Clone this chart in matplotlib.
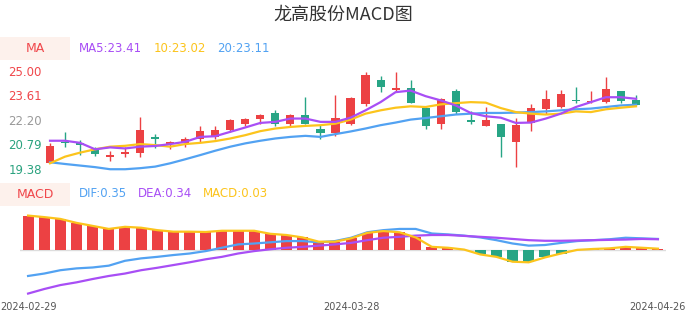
import matplotlib
matplotlib.use("Agg")
import matplotlib.pyplot as plt
from matplotlib.patches import Rectangle

plt.rcParams['font.family'] = ['DejaVu Sans', 'Noto Sans CJK SC']

W, H = 686, 320

# ---- data (40 trading days) ----
dates = ['2024-02-29', '2024-03-28', '2024-04-26']
date_idx = [0, 20, 39]

opens = [19.74, 20.93, 20.87, 20.46, 20.04, 20.23, 20.27, 21.21, 20.80, 20.84,
         21.07, 21.21, 21.63, 21.97, 22.22, 22.60, 21.92, 22.49, 21.67, 21.44,
         21.93, 23.11, 24.49, 23.92, 24.02, 22.88, 21.93, 23.81, 22.16, 21.84,
         21.97, 20.93, 22.03, 22.83, 22.92, 23.30, 23.20, 23.20, 23.86, 23.30]
closes = [20.70, 20.87, 20.74, 20.23, 20.17, 20.36, 21.59, 21.07, 20.90, 21.08,
          21.54, 21.59, 22.20, 22.26, 22.45, 21.97, 22.49, 21.97, 21.44, 22.29,
          23.45, 24.77, 24.05, 24.00, 23.17, 21.82, 23.35, 22.63, 22.07, 22.16,
          21.18, 21.88, 22.88, 23.35, 23.64, 23.24, 23.26, 23.96, 23.24, 23.05]
highs = [20.87, 21.50, 21.03, 20.65, 20.42, 20.65, 22.35, 21.35, 20.99, 21.18,
         21.82, 21.82, 22.22, 22.29, 22.54, 22.73, 22.54, 23.48, 21.88, 23.58,
         23.47, 24.94, 24.68, 24.94, 24.49, 22.88, 23.45, 23.96, 22.69, 22.92,
         21.97, 22.31, 23.07, 23.90, 23.92, 24.05, 23.81, 24.66, 23.86, 23.58]
lows = [19.72, 20.65, 20.17, 20.12, 19.85, 20.08, 20.08, 20.55, 20.52, 20.61,
        20.93, 21.08, 21.50, 21.82, 21.93, 21.84, 21.84, 21.92, 21.07, 21.25,
        21.90, 22.97, 23.77, 23.77, 23.15, 21.69, 21.65, 22.50, 21.97, 21.84,
        20.08, 19.51, 21.55, 22.50, 22.86, 23.17, 23.17, 23.14, 23.14, 23.05]

ma5 = [20.99, 20.99, 20.87, 20.50, 20.61, 20.55, 20.65, 20.69, 20.80, 20.93,
       21.21, 21.25, 21.50, 21.75, 22.01, 22.07, 22.26, 22.26, 22.07, 22.07,
       22.31, 22.73, 23.20, 23.77, 23.86, 23.54, 23.30, 23.01, 22.58, 22.39,
       22.31, 22.01, 22.03, 22.26, 22.54, 22.92, 23.20, 23.48, 23.48, 23.39]
ma10 = [19.70, 20.08, 20.31, 20.50, 20.65, 20.70, 20.80, 20.74, 20.65, 20.80,
        20.87, 20.97, 21.12, 21.31, 21.54, 21.69, 21.78, 21.84, 21.88, 21.97,
        22.20, 22.54, 22.73, 22.88, 22.96, 22.92, 23.07, 23.14, 23.20, 23.17,
        22.86, 22.63, 22.54, 22.49, 22.54, 22.67, 22.63, 22.79, 22.88, 22.96]
ma20 = [19.76, 19.66, 19.57, 19.48, 19.36, 19.36, 19.42, 19.51, 19.70, 19.93,
        20.17, 20.42, 20.65, 20.84, 20.99, 21.12, 21.21, 21.27, 21.21, 21.37,
        21.52, 21.69, 21.88, 22.03, 22.20, 22.29, 22.39, 22.49, 22.54, 22.58,
        22.58, 22.60, 22.63, 22.67, 22.73, 22.79, 22.83, 22.92, 23.01, 23.05]

dif = [-0.87, -0.79, -0.68, -0.62, -0.59, -0.53, -0.37, -0.29, -0.24, -0.18,
       -0.13, -0.05, 0.06, 0.17, 0.20, 0.24, 0.28, 0.28, 0.24, 0.28,
       0.39, 0.57, 0.64, 0.68, 0.68, 0.53, 0.50, 0.46, 0.40, 0.31,
       0.20, 0.13, 0.15, 0.22, 0.28, 0.31, 0.34, 0.39, 0.37, 0.35]
dea = [-1.45, -1.30, -1.17, -1.08, -0.97, -0.87, -0.79, -0.68, -0.60, -0.51,
       -0.42, -0.32, -0.24, -0.13, -0.05, 0.01, 0.06, 0.09, 0.13, 0.17,
       0.22, 0.31, 0.39, 0.42, 0.46, 0.48, 0.48, 0.45, 0.42, 0.39,
       0.35, 0.31, 0.29, 0.29, 0.30, 0.31, 0.32, 0.33, 0.35, 0.34]
macd = [1.12, 1.07, 1.01, 0.88, 0.78, 0.68, 0.75, 0.72, 0.64, 0.59,
        0.59, 0.58, 0.62, 0.62, 0.62, 0.52, 0.48, 0.40, 0.26, 0.26,
        0.37, 0.55, 0.61, 0.57, 0.40, 0.09, 0.06, 0.00, -0.16, -0.24,
        -0.40, -0.42, -0.26, -0.13, -0.01, 0.02, 0.04, 0.09, 0.06, 0.03]

price_ticks = [19.38, 20.79, 22.20, 23.61, 25.00]
tick_colors = ['#2aa27f', '#2aa27f', '#999999', '#f0474b', '#f0474b']

RED = '#ec4143'
GREEN = '#27a585'
C_MA5 = '#a84ef5'
C_MA10 = '#fcc41c'
C_MA20 = '#52a2f2'


def box(l, t, r, b):
    # pixel box (top-left origin) -> figure fraction rect
    return [l / W, 1 - b / H, (r - l) / W, (b - t) / H]


fig = plt.figure(figsize=(W / 100, H / 100), dpi=100)

# ---- price panel ----
ax = fig.add_axes(box(42.5, 60, 643.5, 175))
x = list(range(len(opens)))
for i in x:
    o, c = opens[i], closes[i]
    col = RED if c >= o else GREEN
    ax.vlines(i, lows[i], highs[i], color=col, lw=1.0, zorder=2)
    ax.bar(i, max(abs(c - o), 0.04), bottom=min(o, c), width=0.54,
           color=col, zorder=3)
ax.plot(x, ma20, color=C_MA20, lw=1.6, zorder=4)
ax.plot(x, ma10, color=C_MA10, lw=1.6, zorder=4)
ax.plot(x, ma5, color=C_MA5, lw=1.6, zorder=4)
ax.set_xlim(-0.5, len(opens) - 0.5)
ax.set_ylim(19.03, 25.61)
ax.set_xticks([])
ax.set_yticks(price_ticks)
ax.set_yticklabels(['%.2f' % v for v in price_ticks], fontsize=8.5)
for lab, col in zip(ax.get_yticklabels(), tick_colors):
    lab.set_color(col)
ax.tick_params(axis='y', length=0, pad=0.5)
for s in ax.spines.values():
    s.set_visible(False)

# ---- MACD panel ----
ax2 = fig.add_axes(box(20, 208, 666, 296))
bar_cols = [RED if v >= 0 else GREEN for v in macd]
ax2.bar(x, macd, width=0.68, color=bar_cols, zorder=2)
ax2.axhline(0, color='#dddddd', lw=1.0, zorder=1)
ax2.plot(x, macd, color=C_MA10, lw=1.6, zorder=4)
ax2.plot(x, dif, color=C_MA20, lw=1.6, zorder=3)
ax2.plot(x, dea, color=C_MA5, lw=1.6, zorder=3)
ax2.set_xlim(-0.5, len(macd) - 0.5)
ax2.set_ylim(-1.53, 1.37)
ax2.set_yticks([])
ax2.set_xticks(date_idx)
ax2.set_xticklabels(dates, fontsize=7.0, color='#555555')
ax2.tick_params(axis='x', length=0, pad=4)
for s in ax2.spines.values():
    s.set_visible(False)

# ---- title and legend headers ----
fig.text(0.5, 1 - 15 / H, '龙高股份MACD图', ha='center', va='center',
         fontsize=13, color='#333333', family=['Noto Sans CJK SC', 'DejaVu Sans'])

for top, label in [(37, 'MA'), (183, 'MACD')]:
    fig.add_artist(Rectangle((0, 1 - (top + 23) / H), 70 / W, 23 / H,
                             transform=fig.transFigure, color='#fdf1ec', lw=0))
    fig.text(35 / W, 1 - (top + 11.5) / H, label, ha='center', va='center',
             fontsize=9, color='#f0474b')

for px, txt, col in [(79, 'MA5:23.41', C_MA5), (154, '10:23.02', C_MA10),
                     (217, '20:23.11', C_MA20)]:
    fig.text(px / W, 1 - 48.5 / H, txt, ha='left', va='center', fontsize=8.5, color=col)

for px, txt, col in [(79, 'DIF:0.35', C_MA20), (138, 'DEA:0.34', C_MA5),
                     (203, 'MACD:0.03', C_MA10)]:
    fig.text(px / W, 1 - 193.5 / H, txt, ha='left', va='center', fontsize=8.5, color=col)

fig.savefig('out.png', dpi=100)
